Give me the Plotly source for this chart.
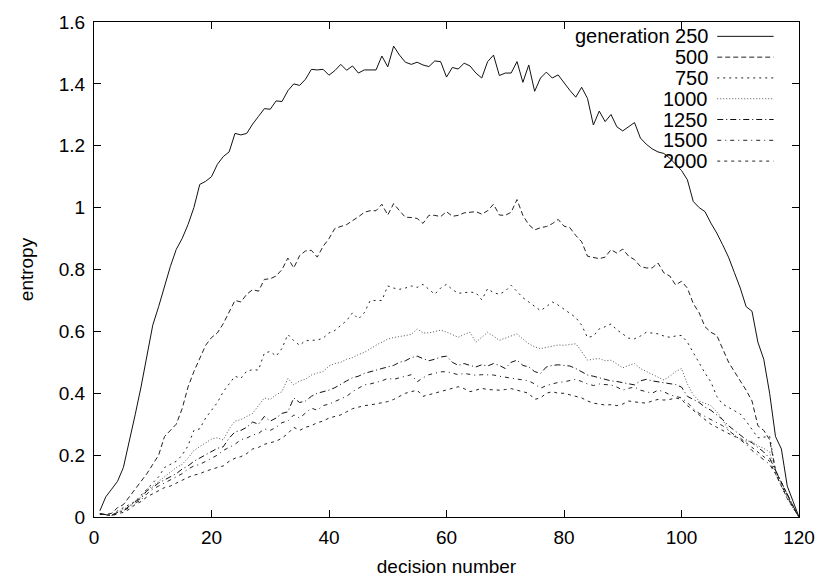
import plotly.graph_objects as go

# decision number along the x axis
decision = list(range(1, 121))

gen250 = [0.02, 0.065, 0.09, 0.115, 0.16, 0.24, 0.33, 0.42, 0.52, 0.62,
          0.68, 0.745, 0.81, 0.865, 0.90, 0.945, 1.00, 1.075, 1.085, 1.10,
          1.14, 1.165, 1.18, 1.24, 1.235, 1.24, 1.27, 1.295, 1.32, 1.318,
          1.345, 1.343, 1.378, 1.40, 1.395, 1.415, 1.447, 1.445, 1.447, 1.428,
          1.443, 1.463, 1.444, 1.458, 1.435, 1.445, 1.445, 1.445, 1.49, 1.455,
          1.522, 1.493, 1.47, 1.463, 1.47, 1.461, 1.456, 1.474, 1.472, 1.422,
          1.453, 1.448, 1.467, 1.458, 1.435, 1.419, 1.472, 1.493, 1.427, 1.435,
          1.435, 1.472, 1.405, 1.461, 1.376, 1.419, 1.438, 1.419, 1.429, 1.403,
          1.379, 1.357, 1.389, 1.353, 1.267, 1.312, 1.278, 1.301, 1.261, 1.248,
          1.261, 1.275, 1.225, 1.205, 1.19, 1.18, 1.175, 1.16, 1.14, 1.12,
          1.09, 1.02, 1.00, 0.987, 0.95, 0.918, 0.88, 0.84, 0.79, 0.74,
          0.68, 0.665, 0.565, 0.51, 0.40, 0.26, 0.22, 0.10, 0.05, 0.0]

gen500 = [0.01, 0.008, 0.012, 0.03, 0.04, 0.065, 0.09, 0.115, 0.14, 0.17,
          0.20, 0.26, 0.28, 0.30, 0.35, 0.42, 0.47, 0.515, 0.555, 0.58,
          0.595, 0.625, 0.66, 0.70, 0.695, 0.72, 0.735, 0.73, 0.768, 0.77,
          0.779, 0.80, 0.837, 0.805, 0.845, 0.86, 0.862, 0.84, 0.875, 0.90,
          0.933, 0.938, 0.945, 0.958, 0.97, 0.985, 0.99, 0.99, 1.011, 0.976,
          1.013, 0.99, 0.969, 0.968, 0.965, 0.949, 0.975, 0.975, 0.971, 0.987,
          0.972, 0.975, 0.983, 0.985, 0.987, 0.979, 0.99, 1.011, 0.976, 0.975,
          0.985, 1.026, 0.975, 0.945, 0.928, 0.935, 0.939, 0.948, 0.962, 0.94,
          0.935, 0.91, 0.89, 0.843, 0.838, 0.835, 0.84, 0.864, 0.853, 0.866,
          0.843, 0.832, 0.81, 0.805, 0.805, 0.821, 0.789, 0.779, 0.75, 0.762,
          0.74, 0.69, 0.66, 0.615, 0.597, 0.587, 0.544, 0.501, 0.47, 0.44,
          0.41, 0.375, 0.295, 0.28, 0.25, 0.15, 0.11, 0.07, 0.035, 0.0]

gen750 = [0.01, 0.008, 0.005, 0.02, 0.03, 0.04, 0.05, 0.07, 0.09, 0.11,
          0.13, 0.16, 0.17, 0.18, 0.20, 0.23, 0.28, 0.285, 0.32, 0.345,
          0.37, 0.405, 0.43, 0.455, 0.448, 0.472, 0.476, 0.475, 0.53, 0.535,
          0.52, 0.545, 0.59, 0.57, 0.555, 0.57, 0.571, 0.572, 0.578, 0.595,
          0.603, 0.62, 0.635, 0.66, 0.64, 0.66, 0.699, 0.70, 0.70, 0.747,
          0.74, 0.736, 0.74, 0.747, 0.742, 0.752, 0.735, 0.72, 0.74, 0.752,
          0.735, 0.723, 0.725, 0.727, 0.725, 0.702, 0.738, 0.725, 0.72, 0.73,
          0.749, 0.73, 0.709, 0.695, 0.68, 0.667, 0.68, 0.695, 0.685, 0.672,
          0.66, 0.645, 0.62, 0.58, 0.585, 0.608, 0.615, 0.624, 0.605, 0.592,
          0.578, 0.576, 0.585, 0.597, 0.595, 0.592, 0.585, 0.581, 0.585, 0.587,
          0.565, 0.53, 0.495, 0.465, 0.437, 0.39, 0.365, 0.355, 0.345, 0.333,
          0.31, 0.285, 0.256, 0.258, 0.261, 0.15, 0.11, 0.07, 0.03, 0.0]

gen1000 = [0.01, 0.008, 0.005, 0.015, 0.025, 0.035, 0.05, 0.065, 0.09, 0.10,
           0.115, 0.13, 0.145, 0.16, 0.17, 0.19, 0.215, 0.227, 0.24, 0.252,
           0.256, 0.249, 0.285, 0.31, 0.315, 0.325, 0.335, 0.36, 0.385, 0.38,
           0.395, 0.405, 0.448, 0.427, 0.44, 0.445, 0.459, 0.465, 0.47, 0.488,
           0.496, 0.50, 0.51, 0.515, 0.525, 0.532, 0.544, 0.555, 0.565, 0.575,
           0.58, 0.583, 0.585, 0.59, 0.608, 0.595, 0.595, 0.60, 0.604, 0.598,
           0.59, 0.581, 0.59, 0.597, 0.565, 0.58, 0.597, 0.585, 0.571, 0.578,
           0.585, 0.592, 0.575, 0.56, 0.55, 0.544, 0.548, 0.552, 0.556, 0.555,
           0.557, 0.56, 0.535, 0.507, 0.51, 0.512, 0.505, 0.507, 0.495, 0.482,
           0.49, 0.496, 0.48, 0.47, 0.462, 0.452, 0.443, 0.455, 0.47, 0.48,
           0.43, 0.395, 0.375, 0.368, 0.36, 0.34, 0.315, 0.28, 0.265, 0.25,
           0.245, 0.245, 0.23, 0.222, 0.21, 0.14, 0.10, 0.06, 0.03, 0.0]

gen1250 = [0.01, 0.008, 0.006, 0.015, 0.02, 0.035, 0.05, 0.06, 0.085, 0.095,
           0.11, 0.12, 0.13, 0.14, 0.155, 0.165, 0.18, 0.19, 0.20, 0.21,
           0.222, 0.227, 0.255, 0.275, 0.28, 0.29, 0.307, 0.30, 0.325, 0.31,
           0.32, 0.335, 0.34, 0.385, 0.37, 0.375, 0.39, 0.40, 0.405, 0.41,
           0.418, 0.43, 0.44, 0.45, 0.455, 0.464, 0.47, 0.475, 0.48, 0.485,
           0.49, 0.50, 0.505, 0.515, 0.52, 0.512, 0.505, 0.51, 0.517, 0.52,
           0.50, 0.49, 0.496, 0.49, 0.485, 0.492, 0.488, 0.496, 0.49, 0.48,
           0.50, 0.507, 0.49, 0.485, 0.47, 0.464, 0.485, 0.49, 0.492, 0.49,
           0.488, 0.48, 0.47, 0.459, 0.455, 0.45, 0.445, 0.44, 0.438, 0.435,
           0.43, 0.427, 0.44, 0.445, 0.44, 0.437, 0.432, 0.43, 0.428, 0.42,
           0.39, 0.38, 0.37, 0.355, 0.345, 0.33, 0.315, 0.295, 0.28, 0.265,
           0.25, 0.24, 0.225, 0.21, 0.19, 0.15, 0.11, 0.07, 0.035, 0.0]

gen1500 = [0.01, 0.008, 0.005, 0.012, 0.02, 0.03, 0.045, 0.055, 0.075, 0.09,
           0.10, 0.11, 0.12, 0.13, 0.14, 0.155, 0.165, 0.17, 0.18, 0.19,
           0.20, 0.215, 0.225, 0.235, 0.25, 0.255, 0.265, 0.27, 0.285, 0.28,
           0.29, 0.305, 0.31, 0.33, 0.32, 0.335, 0.352, 0.345, 0.36, 0.365,
           0.373, 0.38, 0.39, 0.405, 0.415, 0.427, 0.43, 0.435, 0.44, 0.448,
           0.445, 0.45, 0.455, 0.46, 0.437, 0.45, 0.46, 0.465, 0.469, 0.47,
           0.465, 0.46, 0.464, 0.462, 0.458, 0.46, 0.46, 0.459, 0.455, 0.452,
           0.45, 0.448, 0.445, 0.44, 0.43, 0.416, 0.425, 0.43, 0.435, 0.437,
           0.44, 0.445, 0.438, 0.43, 0.425, 0.43, 0.428, 0.427, 0.42, 0.41,
           0.416, 0.42, 0.41, 0.405, 0.40, 0.41, 0.405, 0.395, 0.39, 0.385,
           0.37, 0.35, 0.335, 0.325, 0.315, 0.305, 0.295, 0.28, 0.265, 0.25,
           0.235, 0.215, 0.20, 0.185, 0.17, 0.14, 0.10, 0.065, 0.03, 0.0]

gen2000 = [0.01, 0.008, 0.004, 0.01, 0.015, 0.025, 0.04, 0.05, 0.065, 0.075,
           0.085, 0.095, 0.10, 0.11, 0.12, 0.128, 0.135, 0.14, 0.148, 0.155,
           0.16, 0.165, 0.18, 0.19, 0.195, 0.205, 0.22, 0.225, 0.235, 0.24,
           0.245, 0.255, 0.27, 0.29, 0.28, 0.29, 0.295, 0.305, 0.31, 0.32,
           0.325, 0.33, 0.34, 0.35, 0.355, 0.36, 0.362, 0.365, 0.37, 0.373,
           0.38, 0.39, 0.40, 0.405, 0.41, 0.39, 0.395, 0.40, 0.405, 0.41,
           0.415, 0.421, 0.415, 0.405, 0.41, 0.416, 0.412, 0.41, 0.41, 0.412,
           0.415, 0.41, 0.405, 0.40, 0.38, 0.385, 0.40, 0.405, 0.40, 0.40,
           0.395, 0.39, 0.385, 0.375, 0.368, 0.365, 0.362, 0.363, 0.36, 0.365,
           0.375, 0.372, 0.37, 0.368, 0.375, 0.38, 0.378, 0.38, 0.385, 0.38,
           0.36, 0.345, 0.33, 0.315, 0.30, 0.29, 0.28, 0.27, 0.26, 0.255,
           0.24, 0.225, 0.21, 0.195, 0.18, 0.14, 0.10, 0.06, 0.03, 0.0]

labels = ["generation 250", "500", "750", "1000", "1250", "1500", "2000"]
series = [gen250, gen500, gen750, gen1000, gen1250, gen1500, gen2000]
dashes = ["solid", "5px,3px", "2px,4px", "1px,2px", "6px,3px,1px,3px",
          "4px,4px,1px,4px", "3px,4px"]
colors = ["#111111", "#222222", "#222222", "#555555", "#111111", "#222222", "#222222"]

FONT = "Liberation Sans, Arial, Helvetica, sans-serif"

fig = go.Figure()
for name, ys, dash, col in zip(labels, series, dashes, colors):
    fig.add_trace(go.Scatter(x=decision, y=ys, mode="lines", name=name,
                             line=dict(color=col, width=1, dash=dash),
                             showlegend=False))

# gnuplot-style key: right-aligned text with the line sample to its right
key_top = 0.971
key_step = 0.042
for i, (name, dash, col) in enumerate(zip(labels, dashes, colors)):
    yk = key_top - i * key_step
    fig.add_annotation(xref="paper", yref="paper", x=0.874, y=yk,
                       text=name, showarrow=False, xanchor="right",
                       yanchor="middle", font=dict(size=20, color="black", family=FONT))
    fig.add_shape(type="line", xref="paper", yref="paper",
                  x0=0.884, x1=0.964, y0=yk, y1=yk,
                  line=dict(color=col, width=1, dash=dash))

axis_common = dict(showline=True, linecolor="black", linewidth=1, mirror="ticks",
                   ticks="inside", ticklen=7, tickcolor="black", showgrid=False,
                   zeroline=False, tickfont=dict(size=19, color="black", family=FONT))

fig.update_layout(
    width=827, height=585,
    margin=dict(l=94, r=18, t=19, b=65),
    paper_bgcolor="white", plot_bgcolor="white",
    font=dict(family=FONT, size=19, color="black"),
    xaxis=dict(range=[0, 120], tickvals=[0, 20, 40, 60, 80, 100, 120],
               ticklabelstandoff=3,
               title=dict(text="decision number", standoff=12,
                          font=dict(size=19, family=FONT)),
               **axis_common),
    yaxis=dict(range=[0, 1.6], tickvals=[0, 0.2, 0.4, 0.6, 0.8, 1, 1.2, 1.4, 1.6],
               ticklabelstandoff=4,
               title=dict(text="entropy", standoff=20,
                          font=dict(size=19, family=FONT)),
               **axis_common),
)

fig.write_html("out.html")
